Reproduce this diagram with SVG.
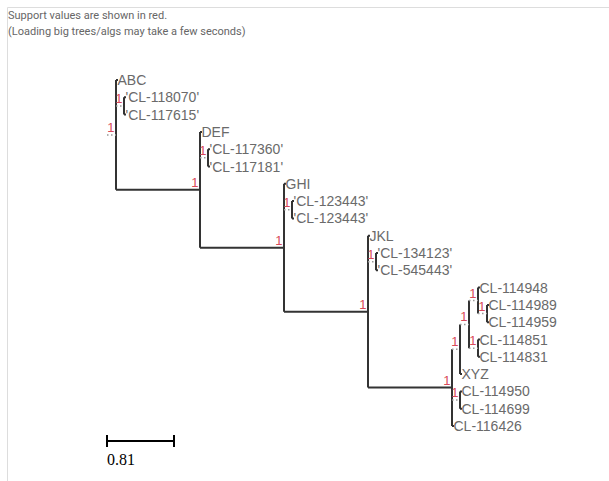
<svg xmlns="http://www.w3.org/2000/svg" width="609" height="481" viewBox="0 0 609 481">
<style>
.hdr{font-family:Roboto,"Liberation Sans",sans-serif;font-size:11px;fill:#666}
.lbl{font-family:"Liberation Sans",Arial,sans-serif;font-size:14px;fill:#6a6a6a}
.sup{font-family:"Liberation Sans",Arial,sans-serif;font-size:13px;fill:#d94a5a;text-anchor:end}
.br{stroke:#333;stroke-width:2;fill:none}
.sh{stroke:#999;stroke-width:1.5;stroke-dasharray:1.5 2.5;fill:none}
.bar{stroke:#000;stroke-width:2;fill:none}
</style>
<rect width="609" height="481" fill="#fff"/>
<path d="M7.5 481V7.5H609" stroke="#ddd" stroke-width="1" fill="none"/>
<text class="hdr" x="8" y="19">Support values are shown in red.</text>
<text class="hdr" x="8" y="35">(Loading big trees/algs may take a few seconds)</text>

<g id="connectors">
<!-- verticals -->
<path class="br" d="M116 80V189.8 M124 97.3V114.6 M200 131.9V247.7 M208 149.2V166.5 M284 183.8V311.65 M292 201.1V218.4 M368 235.7V387.6 M376 253V270.3 M452 349.25V426 M460 324.4V374.1 M469 300.6V348.15 M478 287.6V313.55 M487 304.9V322.2 M478 339.5V356.8 M460 391.4V408.7"/>
<!-- long horizontals -->
<path class="br" d="M116 189.8H200 M200 247.7H284 M284 311.65H368 M368 387.6H452"/>
<!-- leaf stubs -->
<path class="br" d="M116 80H118 M124 97.3H126 M124 114.6H126 M200 131.9H202 M208 149.2H210 M208 166.5H210 M284 183.8H286 M292 201.1H294 M292 218.4H294 M368 235.7H370 M376 253H378 M376 270.3H378 M478 287.6H480 M487 304.9H489 M487 322.2H489 M478 339.5H480 M478 356.8H480 M460 374.1H462 M460 391.4H462 M460 408.7H462 M452 426H454"/>
<!-- short internal branches -->
<path class="sh" d="M107 134.9H116 M116 105.95H124 M200 157.85H208 M284 209.75H292 M368 261.65H376 M452 349.25H460 M452 400.05H460 M460 324.4H469 M469 300.6H478 M469 348.15H478 M478 313.55H487"/>
</g>

<g id="root"><text class="sup" x="114.5" y="131.9">1</text></g>
<g id="n1"><text class="sup" x="122.5" y="102.9">1</text></g>
<g id="n2"><text class="sup" x="198.5" y="186.8">1</text></g>
<g id="n3"><text class="sup" x="206.5" y="154.8">1</text></g>
<g id="n4"><text class="sup" x="282.5" y="244.7">1</text></g>
<g id="n5"><text class="sup" x="290.5" y="206.7">1</text></g>
<g id="n6"><text class="sup" x="366.5" y="308.6">1</text></g>
<g id="n7"><text class="sup" x="374.5" y="258.6">1</text></g>
<g id="n8"><text class="sup" x="450.5" y="384.6">1</text></g>
<g id="nA"><text class="sup" x="458.5" y="346.2">1</text></g>
<g id="nB"><text class="sup" x="458.5" y="397">1</text></g>
<g id="nD"><text class="sup" x="467.5" y="321.4">1</text></g>
<g id="nE"><text class="sup" x="476.5" y="297.6">1</text></g>
<g id="nF"><text class="sup" x="476.5" y="345.1">1</text></g>
<g id="nG"><text class="sup" x="485.5" y="310.5">1</text></g>

<g id="leaf-ABC"><text class="lbl" x="117.5" y="85">ABC</text></g>
<g id="leaf-CL-118070"><text class="lbl" x="125.5" y="102.3">'CL-118070'</text></g>
<g id="leaf-CL-117615"><text class="lbl" x="125.5" y="119.6">'CL-117615'</text></g>
<g id="leaf-DEF"><text class="lbl" x="201.5" y="136.9">DEF</text></g>
<g id="leaf-CL-117360"><text class="lbl" x="209.5" y="154.2">'CL-117360'</text></g>
<g id="leaf-CL-117181"><text class="lbl" x="209.5" y="171.5">'CL-117181'</text></g>
<g id="leaf-GHI"><text class="lbl" x="285.5" y="188.8">GHI</text></g>
<g id="leaf-CL-123443a"><text class="lbl" x="293.5" y="206.1">'CL-123443'</text></g>
<g id="leaf-CL-123443b"><text class="lbl" x="293.5" y="223.4">'CL-123443'</text></g>
<g id="leaf-JKL"><text class="lbl" x="369.5" y="240.7">JKL</text></g>
<g id="leaf-CL-134123"><text class="lbl" x="377.5" y="258">'CL-134123'</text></g>
<g id="leaf-CL-545443"><text class="lbl" x="377.5" y="275.3">'CL-545443'</text></g>
<g id="leaf-CL-114948"><text class="lbl" x="479.5" y="292.6">CL-114948</text></g>
<g id="leaf-CL-114989"><text class="lbl" x="488.5" y="309.9">CL-114989</text></g>
<g id="leaf-CL-114959"><text class="lbl" x="488.5" y="327.2">CL-114959</text></g>
<g id="leaf-CL-114851"><text class="lbl" x="479.5" y="344.5">CL-114851</text></g>
<g id="leaf-CL-114831"><text class="lbl" x="479.5" y="361.8">CL-114831</text></g>
<g id="leaf-XYZ"><text class="lbl" x="461.5" y="379.1">XYZ</text></g>
<g id="leaf-CL-114950"><text class="lbl" x="461.5" y="396.4">CL-114950</text></g>
<g id="leaf-CL-114699"><text class="lbl" x="461.5" y="413.7">CL-114699</text></g>
<g id="leaf-CL-116426"><text class="lbl" x="453.5" y="431">CL-116426</text></g>

<g id="scale">
<path class="bar" d="M107 441H174 M107 435V447 M174 435V447"/>
<text x="107" y="465" font-family="'Liberation Serif','Times New Roman',serif" font-size="16" fill="#000">0.81</text>
</g>
</svg>
